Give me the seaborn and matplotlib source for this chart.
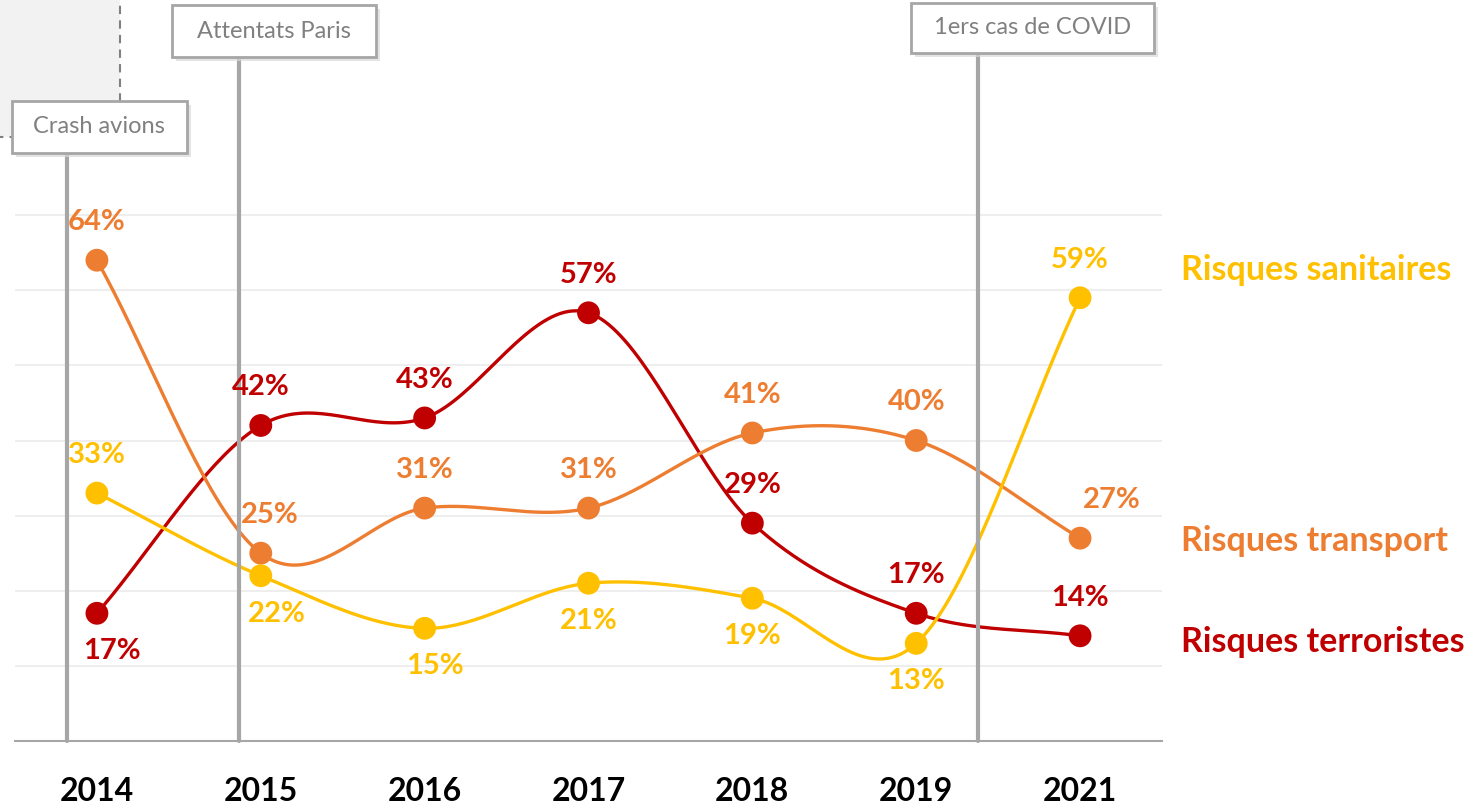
import numpy as np
import pandas as pd
import matplotlib.pyplot as plt
import matplotlib.patches as mpatches
from matplotlib.transforms import IdentityTransform
import seaborn as sns

# data
years = ['2014', '2015', '2016', '2017', '2018', '2019', '2021']
sanitaires = [33, 22, 15, 21, 19, 13, 59]
transport = [64, 25, 31, 31, 41, 40, 27]
terroristes = [17, 42, 43, 57, 29, 17, 14]
series_names = ['Risques terroristes', 'Risques transport', 'Risques sanitaires']

events = ['Crash avions', 'Attentats Paris', '1ers cas de COVID']

# layout (not data)
colors = {'Risques sanitaires': '#FFC000',
          'Risques transport': '#ED7D31',
          'Risques terroristes': '#C00000'}
# where the value label goes: 1 above the point, -1 below
label_side = {'Risques sanitaires': [1, -1, -1, -1, -1, -1, 1],
              'Risques transport': [1, 1, 1, 1, 1, 1, 1],
              'Risques terroristes': [-1, 1, 1, 1, 1, 1, 1]}
label_dx = {'Risques sanitaires': [0, 16, 10, 0, 0, 0, 0],
            'Risques transport': [0, 9, 0, 0, 0, 0, 32],
            'Risques terroristes': [15, 0, 0, 0, 0, 0, 0]}
event_x = [-0.18, 0.866, 5.38]        # between categories
event_top = [78.3, 91.0, 91.6]
box_size = [(175, 52), (204, 52), (243, 50)]   # px
box_shift = [32, 35, 54]                       # px right of the line
name_y = {'Risques sanitaires': 62.7, 'Risques transport': 26.6,
          'Risques terroristes': 13.2}

sns.set_style('white')
plt.rcParams['font.family'] = ['Lato', 'DejaVu Sans']


def smooth(y, n=40):
    # catmull-rom curve through the points (like excel smoothed lines)
    y = np.asarray(y, float)
    p = np.concatenate([[2 * y[0] - y[1]], y, [2 * y[-1] - y[-2]]])
    xs, ys = [], []
    for i in range(len(y) - 1):
        t = np.linspace(0, 1, n, endpoint=(i == len(y) - 2))
        p0, p1, p2, p3 = p[i:i + 4]
        yy = 0.5 * (2 * p1 + (-p0 + p2) * t
                    + (2 * p0 - 5 * p1 + 4 * p2 - p3) * t ** 2
                    + (-p0 + 3 * p1 - 3 * p2 + p3) * t ** 3)
        xs.append(i + t)
        ys.append(yy)
    return np.concatenate(xs), np.concatenate(ys)


values = {'Risques sanitaires': sanitaires,
          'Risques transport': transport,
          'Risques terroristes': terroristes}

fig = plt.figure(figsize=(14.83, 8.08), dpi=100)
ax = fig.add_axes([15 / 1483, 67 / 808, 1147 / 1483, 601 / 808])
ax.set_xlim(-0.5, 6.5)
ax.set_ylim(0, 80)

# grey area top left
fig.patches.append(mpatches.Rectangle((-5, 671), 125, 150, transform=IdentityTransform(),
                                      facecolor='#F2F2F2', edgecolor='#808080',
                                      linestyle=(0, (4, 3)), linewidth=1.5, zorder=0))

for name in series_names:
    sx, sy = smooth(values[name])
    curve = pd.DataFrame({'x': sx, 'y': sy})
    pts = pd.DataFrame({'x': np.arange(len(years)), 'y': values[name]})
    sns.lineplot(data=curve, x='x', y='y', color=colors[name], linewidth=2.4,
                 estimator=None, sort=False, ax=ax, zorder=3)
    sns.scatterplot(data=pts, x='x', y='y', color=colors[name], s=270,
                    edgecolor='none', ax=ax, zorder=4)
    for i, v in enumerate(values[name]):
        ax.annotate(f'{v}%', (i, v), xytext=(label_dx[name][i], 38 * label_side[name][i]),
                    textcoords='offset pixels', ha='center', va='center',
                    fontsize=21, fontweight='bold', color=colors[name], zorder=6)
    ax.text(6.616, name_y[name], name, color=colors[name], fontsize=24.5,
            fontweight='bold', ha='left', va='center', clip_on=False)

# events
for i, ev in enumerate(events):
    ax.plot([event_x[i], event_x[i]], [0, event_top[i]], color='#A6A6A6',
            linewidth=3, clip_on=False, zorder=5)
    px, py = ax.transData.transform((event_x[i], event_top[i]))
    w, h = box_size[i]
    x0 = px + box_shift[i] - w / 2
    fig.patches.append(mpatches.Rectangle((x0 + 4, py - 4), w, h, transform=IdentityTransform(),
                                          facecolor='#D9D9D9', edgecolor='none', alpha=0.7, zorder=6))
    fig.patches.append(mpatches.Rectangle((x0, py), w, h, transform=IdentityTransform(),
                                          facecolor='white', edgecolor='#A6A6A6',
                                          linewidth=2, zorder=7))
    fig.text((x0 + w / 2) / fig.bbox.width, (py + h / 2) / fig.bbox.height, ev,
             ha='center', va='center', fontsize=17, color='#808080', zorder=8)

# axes styling
ax.set_yticks(range(10, 80, 10))
ax.set_yticklabels([])
ax.yaxis.grid(True, color='#EDEDED', linewidth=1.3)
ax.tick_params(axis='y', length=0)
ax.set_xticks(range(len(years)))
ax.set_xticklabels(years, fontsize=23, fontweight='bold', color='black')
ax.set_xticks(np.arange(-0.5, 7, 1), minor=True)
ax.tick_params(axis='x', which='major', length=0, pad=26)
ax.tick_params(axis='x', which='minor', length=10, width=1.5, color='#A6A6A6')
for s in ['top', 'right', 'left']:
    ax.spines[s].set_visible(False)
ax.spines['bottom'].set_color('#A6A6A6')
ax.spines['bottom'].set_linewidth(1.5)
ax.set_xlabel('')
ax.set_ylabel('')

fig.savefig('out.png', dpi=100)
